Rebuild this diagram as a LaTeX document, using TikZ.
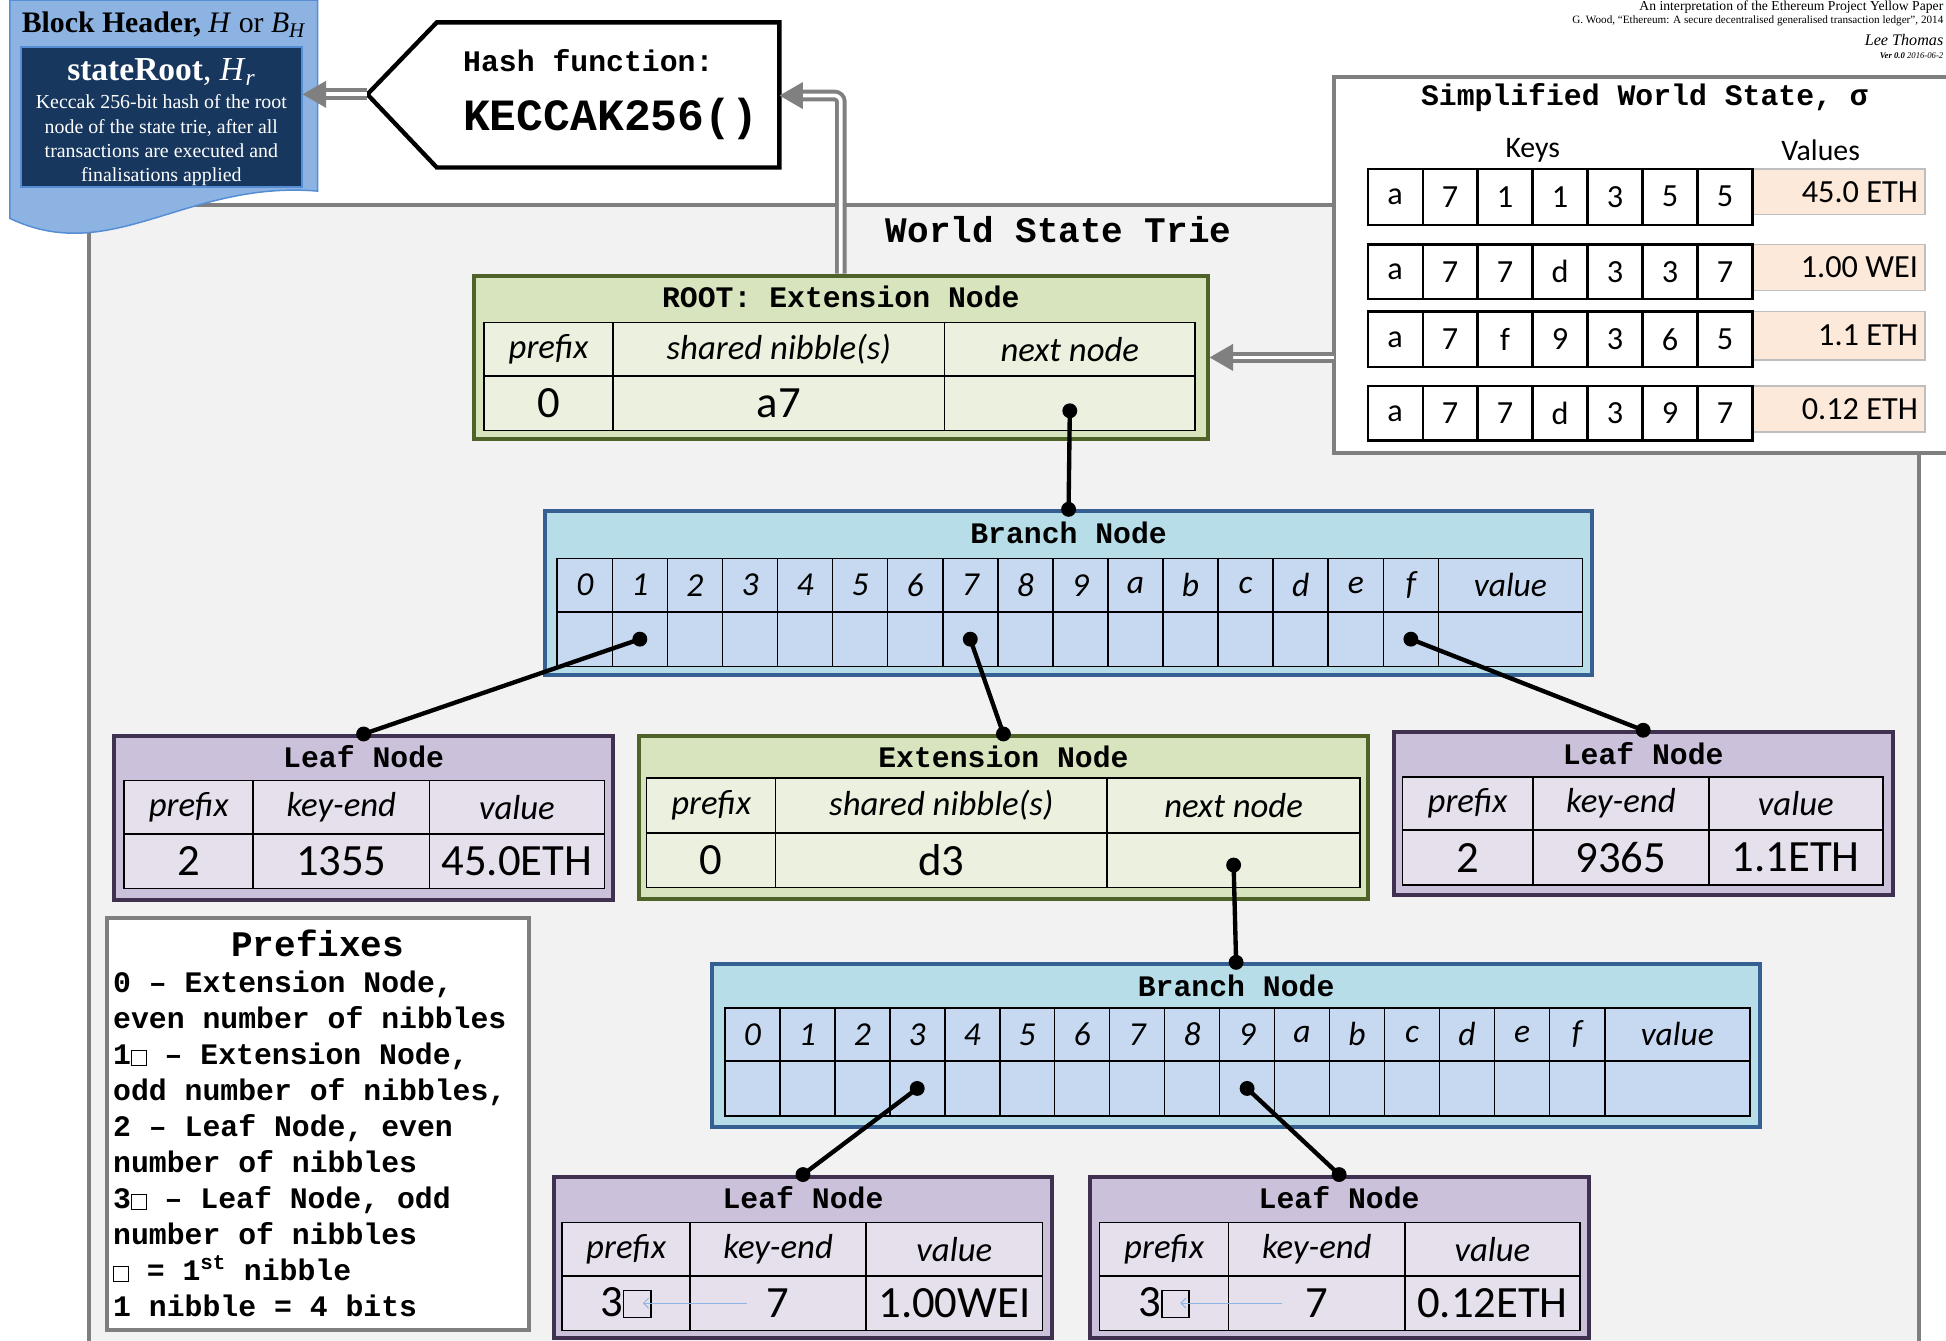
\documentclass[tikz,border=0pt]{standalone}
\usepackage{fontspec}
\setmainfont{Liberation Serif}
\newfontfamily\cour{Liberation Mono}
\newfontfamily\calib{Carlito}
\usetikzlibrary{arrows.meta,fit,calc}
\definecolor{extfill}{HTML}{D7E4BD}
\definecolor{extdraw}{HTML}{4F6228}
\definecolor{extcell}{HTML}{EBF1DE}
\definecolor{brfill}{HTML}{B7DEE8}
\definecolor{brdraw}{HTML}{376092}
\definecolor{brcell}{HTML}{C6D9F1}
\definecolor{lffill}{HTML}{CCC1DA}
\definecolor{lfdraw}{HTML}{403151}
\definecolor{lfcell}{HTML}{E5E0EC}
\definecolor{framegray}{HTML}{7F7F7F}
\definecolor{framefill}{HTML}{F2F2F2}
\definecolor{hdrfill}{HTML}{8DB3E2}
\definecolor{hdrdraw}{HTML}{558ED5}
\definecolor{navy}{HTML}{17375E}
\definecolor{peach}{HTML}{FDE9D9}
\definecolor{peachdraw}{HTML}{BFBFBF}
\definecolor{arrgray}{HTML}{808080}
\definecolor{hintblue}{HTML}{8EB4E3}
\newcommand\cellnode[7]{\node[#2, fit={(#3,#4)(#5,#6)}] (#1) {}; \node[inner sep=0] (#1t) at (#1.center) {#7};}
\newcommand\conn[2]{\draw[connl] #1 -- #2; \fill #1 circle (6); \fill #2 circle (6);}
\newcommand\sq[2]{{\setlength\fboxsep{0pt}\setlength\fboxrule{#2}\fbox{\rule{0pt}{#1}\hspace{#1}}}}
\newcommand\hdf{\calib\itshape\fontsize{28}{32}\selectfont}
\newcommand\vlf{\calib\fontsize{36}{40}\selectfont}
\newcommand\brf{\calib\itshape\fontsize{27}{30}\selectfont}
\newcommand\keyf{\calib\fontsize{26}{30}\selectfont}
\begin{document}
\begin{tikzpicture}[x=1pt,y=-1pt,
  box/.style={rectangle, line width=3.2, inner sep=0},
  cellbox/.style={rectangle, draw=black, line width=1.3, inner sep=0},
  extc/.style={cellbox, fill=extcell},
  brc/.style={cellbox, fill=brcell},
  lfc/.style={cellbox, fill=lfcell},
  keyc/.style={rectangle, draw=black, line width=1.8, fill=white, inner sep=0},
  ttl/.style={font=\cour\bfseries\fontsize{24}{28}\selectfont, inner sep=0},
  dbl/.style={draw=arrgray, line width=3.2, double=white, double distance=3, -{Triangle[length=19,width=21]}},
  connl/.style={line width=3.5, draw=black},
  hintarr/.style={draw=hintblue, line width=0.8, -{Straight Barb[length=4,width=8]}},
]
\useasboundingbox (0,0) rectangle (1568,1080);

% world state trie frame
\node[box, fit={(72,165)(1546,1110)}, draw=framegray, fill=framefill] (frame) {};
\node[font=\cour\bfseries\fontsize{29}{32}\selectfont, inner sep=0] (wst) at (853,185) {World State Trie};

% simplified world state
\node[box, fit={(1075,62)(1600,365)}, draw=framegray, fill=white] (ws) {};
\node[ttl] (wsT) at (1325,79) {Simplified World State, σ};
\node[font=\calib\fontsize{24}{28}\selectfont, inner sep=0] (keysT) at (1235,121) {Keys};
\node[font=\calib\fontsize{24}{28}\selectfont, inner sep=0] (valsT) at (1467,121) {Values};
\foreach \r/\ya/\yb/\yv/\ks/\vv in {1/136/181/173/{a,7,1,1,3,5,5}/{45.0 ETH},2/197/241/234/{a,7,7,d,3,3,7}/{1.00 WEI},3/251/296/290/{a,7,f,9,3,6,5}/{1.1 ETH},4/311/355/348/{a,7,7,d,3,9,7}/{0.12 ETH}}{
  \node[fit={(1412,\ya)(1551,\yv)}, fill=peach, draw=peachdraw, line width=1.2, inner sep=0] (val\r) {};
  \node[anchor=east, inner sep=0, font=\keyf] (valt\r) at ($(val\r.east)+(-6,0)$) {\vv};
  \foreach \k [count=\c from 0] in \ks {
    \pgfmathsetmacro\xa{1102+44.29*\c}
    \pgfmathsetmacro\xb{1102+44.29*(\c+1)}
    \cellnode{key\r\c}{keyc}{\xa}{\ya}{\xb}{\yb}{\keyf\k}
  }
}

% block header
\path[draw=hdrdraw, fill=hdrfill, line width=1.2] (8,0) -- (256,0) -- (256,154) .. controls (150,145) and (90,215) .. (8,176) -- cycle;
\node[fit={(17,38)(243,151)}, fill=navy, draw=hdrdraw, line width=1.5, inner sep=0] (hdrinner) {};
\node[font=\fontsize{24}{26}\selectfont, inner sep=0] (bhT) at (132,20) {\textbf{Block Header,} \textit{H} or \textit{B}\textsubscript{\textit{H}}};
\node[text=white, font=\fontsize{27}{29}\selectfont, inner sep=0] (srT) at (130,58) {\textbf{stateRoot}, \textit{H}\textsubscript{\textit{r}}};
\node[text=white, align=center, font=\fontsize{16}{19.5}\selectfont, inner sep=0] (srD) at (130,113) {Keccak 256-bit hash of the root\\node of the state trie, after all\\transactions are executed and\\finalisations applied};

% hash function box
\path[draw=black, fill=white, line width=3.5, line join=miter] (296,76) -- (352,18) -- (628,18) -- (628,135) -- (352,135) -- cycle;
\coordinate (hashtip) at (296,76);
\coordinate (hashE) at (628,77);
\node[font=\cour\bfseries\fontsize{24}{28}\selectfont, anchor=west, inner sep=0] (hashL) at (373,49) {Hash function:};
\node[font=\cour\bfseries\fontsize{36}{40}\selectfont, anchor=west, inner sep=0] (hashF) at (373,96) {KECCAK256()};

% top right texts
\node[anchor=base east, inner sep=0, font=\fontsize{11}{13}\selectfont] (ttlA) at (1566,8.6) {An interpretation of the Ethereum Project Yellow Paper};
\node[anchor=east, inner sep=0, font=\fontsize{9}{11}\selectfont] (ttlB) at (1566,16.5) {G. Wood, “Ethereum: A secure decentralised generalised transaction ledger”, 2014};
\node[anchor=base east, inner sep=0, font=\itshape\fontsize{13}{15}\selectfont] (ttlC) at (1566,37) {Lee Thomas};
\node[anchor=base east, inner sep=0, font=\itshape\fontsize{7}{8}\selectfont] (ttlD) at (1566,47) {\textbf{Ver 0.0} 2016-06-2};

% ROOT extension node
\node[box, fit={(382,222)(973,354)}, draw=extdraw, fill=extfill] (root) {};
\node[ttl] (rootT) at (677.5,239) {ROOT: Extension Node};
\cellnode{rA1h}{extc}{390}{260}{494}{303}{\hdf prefix}
\cellnode{rA2h}{extc}{494}{260}{761}{303}{\hdf shared nibble(s)}
\cellnode{rA3h}{extc}{761}{260}{963}{303}{\hdf next node}
\cellnode{rA1v}{extc}{390}{303}{494}{347}{\vlf 0}
\cellnode{rA2v}{extc}{494}{303}{761}{347}{\vlf a7}
\cellnode{rA3v}{extc}{761}{303}{963}{347}{}

% Branch node A
\node[box, fit={(439,412)(1283,544)}, draw=brdraw, fill=brfill] (brA) {};
\node[ttl] (brAT) at (861,429) {Branch Node};
\foreach \i/\l in {0/0,1/1,2/2,3/3,4/4,5/5,6/6,7/7,8/8,9/9,10/a,11/b,12/c,13/d,14/e,15/f}{
  \pgfmathsetmacro\xa{449+44.375*\i}
  \pgfmathsetmacro\xb{449+44.375*(\i+1)}
  \cellnode{brAh\i}{brc}{\xa}{450}{\xb}{493}{\brf \l}
  \cellnode{brAb\i}{brc}{\xa}{493}{\xb}{537}{}
}
\cellnode{brAhv}{brc}{1159}{450}{1275}{493}{\brf value}
\cellnode{brAbv}{brc}{1159}{493}{1275}{537}{}

% Leaf A
\node[box, fit={(92,593)(494,725)}, draw=lfdraw, fill=lffill] (leafA) {};
\node[ttl] (leafAT) at (293,610) {Leaf Node};
\cellnode{lA1h}{lfc}{100}{629}{204}{672}{\hdf prefix}
\cellnode{lA2h}{lfc}{204}{629}{346}{672}{\hdf key-end}
\cellnode{lA3h}{lfc}{346}{629}{487}{672}{\hdf value}
\cellnode{lA1v}{lfc}{100}{672}{204}{716}{\vlf 2}
\cellnode{lA2v}{lfc}{204}{672}{346}{716}{\vlf 1355}
\cellnode{lA3v}{lfc}{346}{672}{487}{716}{\vlf 45.0ETH}

% Extension node B
\node[box, fit={(515,593)(1102,724)}, draw=extdraw, fill=extfill] (extB) {};
\node[ttl] (extBT) at (808.5,610) {Extension Node};
\cellnode{eB1h}{extc}{521}{627}{625}{671}{\hdf prefix}
\cellnode{eB2h}{extc}{625}{627}{892}{671}{\hdf shared nibble(s)}
\cellnode{eB3h}{extc}{892}{627}{1096}{671}{\hdf next node}
\cellnode{eB1v}{extc}{521}{671}{625}{715}{\vlf 0}
\cellnode{eB2v}{extc}{625}{671}{892}{715}{\vlf d3}
\cellnode{eB3v}{extc}{892}{671}{1096}{715}{}

% Leaf C
\node[box, fit={(1123,590)(1525,721)}, draw=lfdraw, fill=lffill] (leafC) {};
\node[ttl] (leafCT) at (1324,607) {Leaf Node};
\cellnode{lC1h}{lfc}{1130}{626}{1235}{669}{\hdf prefix}
\cellnode{lC2h}{lfc}{1235}{626}{1377}{669}{\hdf key-end}
\cellnode{lC3h}{lfc}{1377}{626}{1517}{669}{\hdf value}
\cellnode{lC1v}{lfc}{1130}{669}{1235}{713}{\vlf 2}
\cellnode{lC2v}{lfc}{1235}{669}{1377}{713}{\vlf 9365}
\cellnode{lC3v}{lfc}{1377}{669}{1517}{713}{\vlf 1.1ETH}

% Branch node B
\node[box, fit={(574,777)(1418,908)}, draw=brdraw, fill=brfill] (brB) {};
\node[ttl] (brBT) at (996,794) {Branch Node};
\foreach \i/\l in {0/0,1/1,2/2,3/3,4/4,5/5,6/6,7/7,8/8,9/9,10/a,11/b,12/c,13/d,14/e,15/f}{
  \pgfmathsetmacro\xa{584+44.3*\i}
  \pgfmathsetmacro\xb{584+44.3*(\i+1)}
  \cellnode{brBh\i}{brc}{\xa}{812}{\xb}{855}{\brf \l}
  \cellnode{brBb\i}{brc}{\xa}{855}{\xb}{899}{}
}
\cellnode{brBhv}{brc}{1293}{812}{1410}{855}{\brf value}
\cellnode{brBbv}{brc}{1293}{855}{1410}{899}{}

% Leaf D
\node[box, fit={(446,948)(848,1078)}, draw=lfdraw, fill=lffill] (leafD) {};
\node[ttl] (leafDT) at (647,965) {Leaf Node};
\cellnode{lD1h}{lfc}{453}{985}{556}{1028}{\hdf prefix}
\cellnode{lD2h}{lfc}{556}{985}{698}{1028}{\hdf key-end}
\cellnode{lD3h}{lfc}{698}{985}{840}{1028}{\hdf value}
\cellnode{lD1v}{lfc}{453}{1028}{556}{1072}{\vlf 3\sq{0.58em}{0.03em}}
\cellnode{lD2v}{lfc}{556}{1028}{698}{1072}{\vlf 7}
\cellnode{lD3v}{lfc}{698}{1028}{840}{1072}{\vlf 1.00WEI}
\coordinate (hintD1) at (602,1050);
\coordinate (hintD2) at (518,1050);
\draw[hintarr] (hintD1) -- (hintD2);

% Leaf E
\node[box, fit={(878,948)(1280,1078)}, draw=lfdraw, fill=lffill] (leafE) {};
\node[ttl] (leafET) at (1079,965) {Leaf Node};
\cellnode{lE1h}{lfc}{886}{985}{990}{1028}{\hdf prefix}
\cellnode{lE2h}{lfc}{990}{985}{1132}{1028}{\hdf key-end}
\cellnode{lE3h}{lfc}{1132}{985}{1273}{1028}{\hdf value}
\cellnode{lE1v}{lfc}{886}{1028}{990}{1072}{\vlf 3\sq{0.58em}{0.03em}}
\cellnode{lE2v}{lfc}{990}{1028}{1132}{1072}{\vlf 7}
\cellnode{lE3v}{lfc}{1132}{1028}{1273}{1072}{\vlf 0.12ETH}
\coordinate (hintE1) at (1033,1050);
\coordinate (hintE2) at (951,1050);
\draw[hintarr] (hintE1) -- (hintE2);

% prefixes box
\node[box, fit={(86,740)(426,1072)}, draw=framegray, fill=white] (pfx) {};
\node[font=\cour\bfseries\fontsize{29}{32}\selectfont, inner sep=0] (pfxT) at (256,760) {Prefixes};
\foreach \t [count=\i from 0] in {{0 – Extension Node,},{even number of nibbles},{1\sq{0.45em}{0.04em} – Extension Node,},{odd number of nibbles,},{2 – Leaf Node, even},{number of nibbles},{3\sq{0.45em}{0.04em} – Leaf Node, odd},{number of nibbles},{\sq{0.45em}{0.04em} = 1\textsuperscript{st} nibble},{1 nibble = 4 bits}}{
  \node[anchor=base west, inner sep=0, font=\cour\bfseries\fontsize{24}{28}\selectfont] (pl\i) at (91,{800+29*\i}) {\t};
}

% double arrows
\draw[dbl] (hashtip) -- (hashtip -| hdrinner.east);
\draw[dbl, rounded corners=5] (root.north) |- (hashE);
\coordinate (wsarr) at (1075,288);
\draw[dbl] (wsarr) -- (wsarr -| root.east);

% connectors
\conn{([yshift=-6pt]rA3v.center)}{(brA.north)}
\conn{(brAb1.center)}{(leafA.north)}
\conn{(brAb7.center)}{(extB.north)}
\conn{(brAb15.center)}{(leafC.north)}
\conn{([yshift=-4pt]eB3v.center)}{(brB.north)}
\conn{(brBb3.center)}{(leafD.north)}
\conn{(brBb9.center)}{(leafE.north)}
\end{tikzpicture}
\end{document}
